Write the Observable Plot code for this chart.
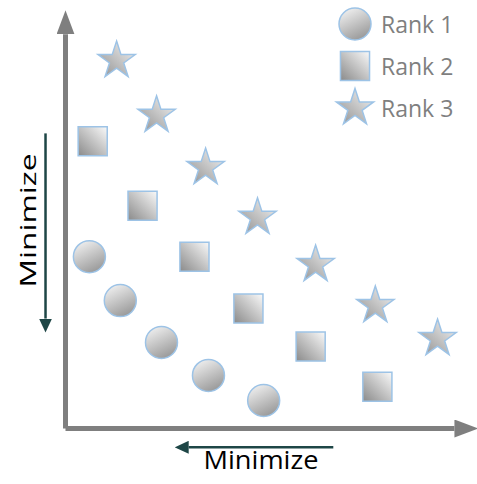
<!DOCTYPE html>
<html><head><meta charset="utf-8">
<script src="https://cdn.jsdelivr.net/npm/d3@7"></script>
<script src="https://cdn.jsdelivr.net/npm/@observablehq/plot@0.6"></script>
<style>
body{margin:0;background:#fff;}
#wrap{position:relative;width:477px;height:484px;font-family:"Open Sans",Lato,sans-serif;}
#legend{position:absolute;left:337px;top:3px;}
.item{display:flex;align-items:center;height:42px;color:#7f7f7f;font-size:23px;line-height:42px;}
.item svg{margin-right:8px;overflow:visible}
</style></head>
<body><div id="wrap"><div id="chart"></div><div id="legend"></div></div>
<script>
// ---- data (abstract objective units, 0..100 on each axis) ----
const seriesNames = ["Rank 1", "Rank 2", "Rank 3"];
const rank1X = [5.8, 13.3, 23.3, 34.7, 48.1];
const rank1Y = [41.1, 30.6, 20.6, 12.7, 6.7];
const rank2X = [6.6, 18.7, 31.3, 44.4, 59.5, 75.7];
const rank2Y = [68.7, 53.3, 41.1, 28.7, 19.6, 10.0];
const rank3X = [12.4, 22.1, 34.0, 46.6, 60.7, 75.2, 90.3];
const rank3Y = [88.0, 74.9, 62.4, 50.5, 39.2, 29.4, 21.5];
const axisLabel = "Minimize";
// axis extents (arrow bases) and "minimize" hint arrows
const axisLines = [
  {x1: 0, y1: 0, x2: 94.4, y2: 0},
  {x1: 0, y1: 0, x2: 0, y2: 94.3}
];
const hintLines = [
  {x1: -4.85, y1: 70.6, x2: -4.85, y2: 26.3},
  {x1: 65.0, y1: -4.5, x2: 29.9, y2: -4.5}
];

const toRows = (xs, ys) => xs.map((x, i) => ({x, y: ys[i]}));
const rank1 = toRows(rank1X, rank1Y);
const rank2 = toRows(rank2X, rank2Y);
const rank3 = toRows(rank3X, rank3Y);

const symbols = ["circle", "square", "star"];
const fills = ["url(#gCirc)", "url(#gSq)", "url(#gStar)"];
const radii = [16, 16.4, 11.7];
const strokeCol = "#9dc3e6";
const font = "'Open Sans', Lato, sans-serif";

const plot = Plot.plot({
  width: 477, height: 484,
  marginLeft: 65, marginRight: 0, marginTop: 10, marginBottom: 56,
  x: {domain: [0, 100], axis: null},
  y: {domain: [0, 100], axis: null},
  style: {background: "transparent", overflow: "visible", fontFamily: font},
  marks: [
    Plot.link(axisLines, {x1: "x1", y1: "y1", x2: "x2", y2: "y2", stroke: "#7f7f7f", strokeWidth: 5}),
    Plot.link(hintLines, {x1: "x1", y1: "y1", x2: "x2", y2: "y2", stroke: "#1e4646", strokeWidth: 2.5}),
    Plot.text([axisLabel], {frameAnchor: "bottom", textAnchor: "start", dx: -68, dy: 40.5, fontSize: 26, fill: "#000"}),
    Plot.text([axisLabel], {frameAnchor: "left", textAnchor: "start", dx: -37, dy: 68, rotate: -90, fontSize: 22, fill: "#000"}),
    Plot.dot(rank1, {x: "x", y: "y", symbol: symbols[0], r: radii[0], fill: fills[0], stroke: strokeCol, strokeWidth: 1.5}),
    Plot.dot(rank2, {x: "x", y: "y", symbol: symbols[1], r: radii[1], fill: fills[1], stroke: strokeCol, strokeWidth: 1.5}),
    Plot.dot(rank3, {x: "x", y: "y", symbol: symbols[2], r: radii[2], fill: fills[2], stroke: strokeCol, strokeWidth: 1.5})
  ]
});

const svg = d3.select(plot);
const defs = svg.insert("defs", ":first-child");
function grad(id, x1, y1, x2, y2, c1, c2) {
  const g = defs.append("linearGradient").attr("id", id)
    .attr("x1", x1).attr("y1", y1).attr("x2", x2).attr("y2", y2);
  g.append("stop").attr("offset", "0").attr("stop-color", c1);
  g.append("stop").attr("offset", "1").attr("stop-color", c2);
}
grad("gCirc", 0.25, 0, 0.75, 1, "#f0f0f0", "#959595");
grad("gSq", 1, 0, 0, 1, "#fafafa", "#8a8a8a");
grad("gStar", 1, 0, 0, 1, "#f6f6f6", "#8f8f8f");
function marker(id, len, wid, color) {
  defs.append("marker").attr("id", id)
    .attr("markerUnits", "userSpaceOnUse")
    .attr("markerWidth", len).attr("markerHeight", wid)
    .attr("viewBox", `0 0 ${len} ${wid}`)
    .attr("refX", 0).attr("refY", wid / 2)
    .attr("orient", "auto")
    .append("path").attr("d", `M0,0L${len},${wid / 2}L0,${wid}Z`).attr("fill", color);
}
marker("axHead", 24, 18, "#7f7f7f");
marker("hintHead", 14, 13, "#1e4646");
const linkGroups = svg.selectAll("g[aria-label='link']").nodes();
d3.select(linkGroups[0]).selectAll("path").attr("marker-end", "url(#axHead)");
d3.select(linkGroups[1]).selectAll("path").attr("marker-end", "url(#hintHead)");
// stretch the axis labels to the reference's text lengths
const textGroups = svg.selectAll("g[aria-label='text']").nodes();
d3.select(textGroups[0]).selectAll("text").attr("textLength", 115).attr("lengthAdjust", "spacingAndGlyphs");
d3.select(textGroups[1]).selectAll("text").attr("textLength", 134).attr("lengthAdjust", "spacingAndGlyphs");

document.getElementById("chart").appendChild(plot);

// legend
const legend = d3.select("#legend");
seriesNames.forEach((name, i) => {
  const item = legend.append("div").attr("class", "item");
  const s = item.append("svg").attr("width", 36).attr("height", 42);
  const sym = {circle: d3.symbolCircle, square: d3.symbolSquare, star: d3.symbolStar}[symbols[i]];
  s.append("path")
    .attr("transform", "translate(18,21)")
    .attr("d", d3.symbol(sym, radii[i] * radii[i] * Math.PI)())
    .attr("fill", fills[i]).attr("stroke", strokeCol).attr("stroke-width", 1.5);
  item.append("span").text(name);
});
</script>
</body></html>
